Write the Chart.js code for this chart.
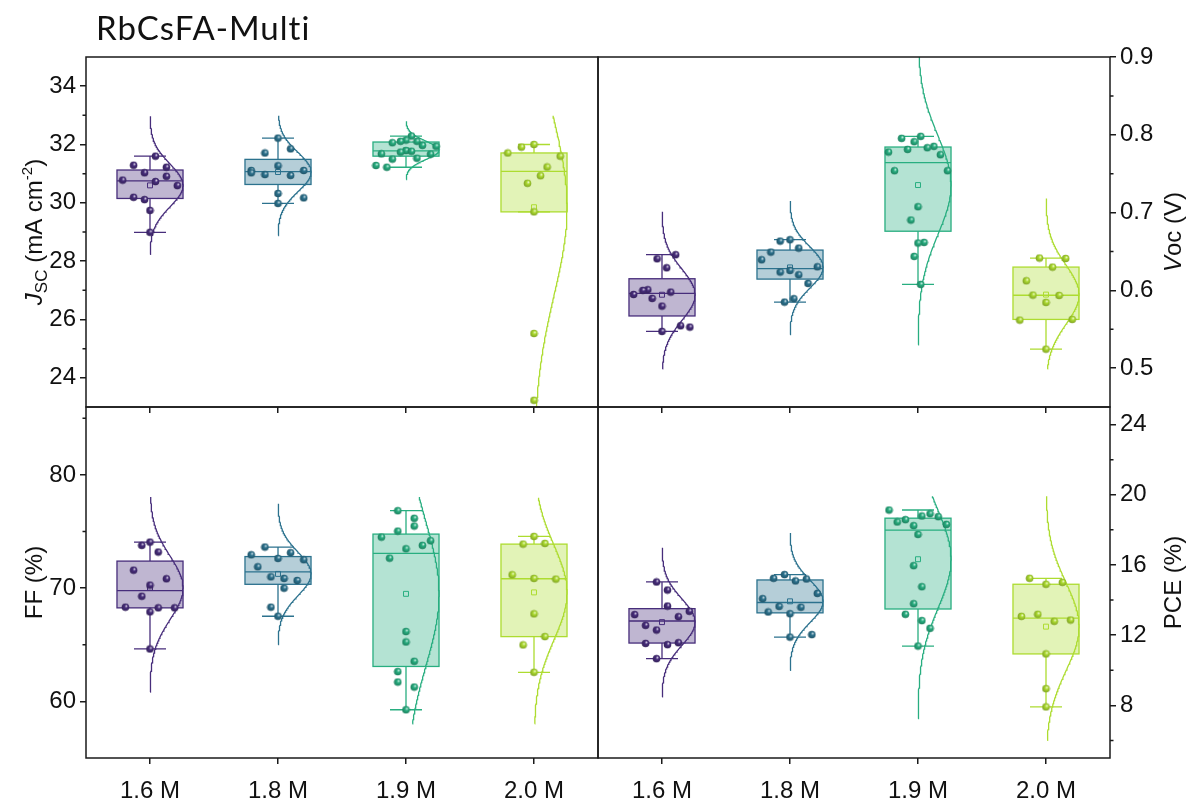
<!DOCTYPE html>
<html>
<head>
<meta charset="utf-8">
<title>RbCsFA-Multi</title>
<script src="https://cdn.jsdelivr.net/npm/chart.js@4.4.1/dist/chart.umd.min.js"></script>
<style>
  html, body { margin: 0; padding: 0; background: #fff; }
  #figure { position: relative; width: 1192px; height: 803px; overflow: hidden; }
  #figure canvas { position: absolute; left: 0; top: 0; }
</style>
</head>
<body>
<div id="figure">
  <canvas id="jscChart" width="1192" height="803"></canvas>
  <canvas id="vocChart" width="1192" height="803"></canvas>
  <canvas id="ffChart" width="1192" height="803"></canvas>
  <canvas id="pceChart" width="1192" height="803"></canvas>
</div>
<script>
const groups = ["1.6 M", "1.8 M", "1.9 M", "2.0 M"];
const colors = ["#472d7b", "#2c728e", "#28ae80", "#addc30"];
const fills = ["rgba(71,45,123,0.35)", "rgba(44,114,142,0.35)", "rgba(40,174,128,0.35)", "rgba(173,220,48,0.35)"];

// Jsc (mA cm-2) per device
const jsc16 = [31.60, 31.29, 31.22, 31.03, 30.91, 30.78, 30.73, 30.59, 30.19, 30.11, 29.74, 28.99];
const jsc18 = [32.22, 31.85, 31.71, 31.27, 31.11, 31.03, 30.97, 31.11, 30.94, 30.32, 30.17, 29.98];
const jsc19 = [32.29, 32.15, 32.11, 32.11, 32.06, 31.97, 31.94, 31.79, 31.77, 31.74, 31.68, 31.67, 31.53, 31.50, 31.28, 31.22];
const jsc20 = [32.00, 31.91, 31.71, 31.60, 31.23, 30.93, 30.67, 29.69, 25.52, 23.23];

// Voc (V)
const voc16 = [0.6458, 0.6406, 0.6290, 0.6008, 0.5999, 0.5977, 0.5947, 0.5896, 0.5797, 0.5544, 0.5527, 0.5472];
const voc18 = [0.6651, 0.6633, 0.6543, 0.6492, 0.6393, 0.6303, 0.6256, 0.6235, 0.6200, 0.6089, 0.5892, 0.5849];
const voc19 = [0.7980, 0.7954, 0.7911, 0.7851, 0.7834, 0.7812, 0.7778, 0.7744, 0.7538, 0.7538, 0.7075, 0.6904, 0.6616, 0.6608, 0.6436, 0.6076];
const voc20 = [0.6415, 0.6410, 0.6299, 0.6123, 0.5939, 0.5935, 0.5845, 0.5626, 0.5617, 0.5244];

// FF (%)
const ff16 = [74.07, 73.78, 73.19, 71.59, 70.83, 70.27, 69.29, 68.32, 68.26, 68.26, 67.91, 64.63];
const ff18 = [73.63, 73.13, 72.95, 72.63, 72.51, 71.89, 71.00, 70.86, 70.68, 70.00, 68.32, 67.52];
const ff19 = [76.84, 76.17, 75.49, 75.04, 74.51, 74.19, 73.78, 73.48, 72.65, 66.17, 65.25, 63.54, 62.63, 61.71, 61.27, 59.26];
const ff20 = [74.57, 73.95, 73.89, 71.18, 70.86, 70.80, 67.73, 65.72, 64.99, 62.57];

// PCE (%)
const pce16 = [15.03, 14.57, 13.66, 13.36, 13.17, 13.05, 12.56, 12.29, 11.57, 11.53, 11.46, 10.66];
const pce18 = [15.45, 15.24, 15.20, 15.09, 14.38, 14.08, 13.64, 13.59, 13.32, 13.22, 12.03, 11.89];
const pce19 = [19.13, 18.92, 18.79, 18.75, 18.58, 18.45, 18.31, 18.24, 17.74, 15.96, 14.76, 13.79, 13.19, 12.83, 12.39, 11.38];
const pce20 = [15.24, 15.01, 14.90, 13.19, 13.07, 12.86, 12.79, 10.93, 8.95, 7.91];

// value span covered by each normal-distribution line
const jscCurveLo = [28.23, 28.88, 30.80, 20.0];
const jscCurveHi = [32.97, 32.99, 32.80, 32.99];
const vocCurveLo = [0.499, 0.543, 0.530, 0.499];
const vocCurveHi = [0.701, 0.715, 0.950, 0.718];
const ffCurveLo = [60.83, 65.01, 58.02, 58.02];
const ffCurveHi = [78.05, 77.46, 78.05, 77.99];
const pceCurveLo = [8.48, 9.99, 7.24, 6.01];
const pceCurveHi = [16.98, 17.82, 19.91, 19.91];

// axis ticks
const jscTicks = [24, 26, 28, 30, 32, 34];
const jscMinor = [25, 27, 29, 31, 33];
const vocTicks = [0.5, 0.6, 0.7, 0.8, 0.9];
const vocMinor = [0.55, 0.65, 0.75, 0.85];
const ffTicks = [60, 70, 80];
const ffMinor = [65, 75, 85];
const pceTicks = [8, 12, 16, 20, 24];
const pceMinor = [6, 10, 14, 18, 22];

// horizontal scatter of the dots, in steps of JIT_STEP
const jscJitter = [
  [1, -3, 3, -1, 3, -5, 1, 5, -3, -1, 0, 0],
  [0, 2.3, -2.4, 0, -4.9, -4.9, -2.4, 4.7, 2.3, 0, 4.7, 0],
  [1, 0, -1, 2, -2.5, 3, 5.5, 0, 1, -1, -4.5, 4.5, 2, -2.5, -5.5, -3.5],
  [0, -2.3, -4.8, 4.8, 2.4, 1.2, -1.2, 0, 0, 0]
];
const vocJitter = [
  [2.5, -0.9, 0.85, -2.6, -3.5, 1.6, -5.2, -1.8, 0, 3.4, 5.1, 0],
  [0, -1.8, 1.6, -3.5, -5.2, 5, 0, -1.8, 1.6, 3.3, 0.7, -1],
  [0.5, -3, -0.7, 2.9, 1.7, -1.9, -5.4, 4.1, -4.3, 5.4, 0, -1.3, 1.1, 0, -0.7, 0.5],
  [-1.2, 3.6, 1.2, -3.6, -2.4, 2.4, 0, 4.8, -4.8, 0]
];
const ffJitter = [
  [0, -1.5, 1.5, -3, 3, 0, -1.5, -4.5, 1.5, 4.5, 0, 0],
  [-2.4, 2.3, -4.9, 0, 4.7, -3.7, -1.3, 1.1, 3.5, 1.1, -1.3, 0],
  [-1.5, 1.5, 1.5, -1.5, -4.5, 4.5, 3, 0, -3, 0, 0, 1.5, -1.5, -1.5, 1.5, 0],
  [0, 2, -2, -4, 0, 4, 0, 2, -2, 0]
];
const pceJitter = [
  [-1, 1, 1, 5, -5, 3, -3, -1, 3, -3, 1, -1],
  [-1, -3, 3, 1, 5, -5, -2, 2, -4, 0, 4, 0],
  [-5.3, 2.2, 0.7, 3.7, -2.3, -3.8, 5.2, -0.8, 0, -0.8, 0.7, -0.8, -2.3, 0.7, 2.2, 0],
  [-3, 3, 0, -1.5, -4.5, 4.5, 1.5, 0, 0, 0]
];

const W = 1192, H = 803;
const JIT_STEP = 0.0427;
const BOX_W = 0.516, CAP_W = 0.25, CURVE_PEAK = 0.258;
const FONT = "'Liberation Sans', Arial, sans-serif";
const INK = "#1a1a1a";

function mean(a) { return a.reduce((s, v) => s + v, 0) / a.length; }
function stdev(a) {
  const m = mean(a);
  return Math.sqrt(a.reduce((s, v) => s + (v - m) * (v - m), 0) / (a.length - 1));
}
function quantile(sorted, p) {
  const np = sorted.length * p;
  const k = Math.round(np);
  if (Math.abs(np - k) < 1e-9) return (sorted[k - 1] + sorted[k]) / 2;
  return sorted[Math.ceil(np) - 1];
}
function boxStats(vals) {
  const s = vals.slice().sort((a, b) => a - b);
  const q1 = quantile(s, 0.25), q3 = quantile(s, 0.75), med = quantile(s, 0.5);
  const iqr = q3 - q1;
  const inside = s.filter(v => v >= q1 - 1.5 * iqr && v <= q3 + 1.5 * iqr);
  return { q1, q3, med, lo: inside[0], hi: inside[inside.length - 1] };
}

function mix(hex, f, target) {
  const n = parseInt(hex.slice(1), 16);
  const c = [n >> 16, (n >> 8) & 255, n & 255].map(v => Math.round(v + (target - v) * f));
  return `rgb(${c[0]},${c[1]},${c[2]})`;
}
// shaded sphere used as point marker
function makeBall(hex) {
  const c = document.createElement("canvas");
  c.width = c.height = 9;
  const g = c.getContext("2d");
  const grad = g.createRadialGradient(5.6, 3.2, 0.2, 4.5, 4.5, 4.2);
  grad.addColorStop(0, mix(hex, 0.8, 255));
  grad.addColorStop(0.35, hex);
  grad.addColorStop(1, mix(hex, 0.3, 0));
  g.fillStyle = grad;
  g.beginPath();
  g.arc(4.5, 4.5, 3.8, 0, Math.PI * 2);
  g.fill();
  return c;
}
const balls = colors.map(makeBall);

function drawRich(ctx, segs, cx, cy) {
  const fontOf = s => `${s.italic ? "italic " : ""}${s.size || 24}px ${FONT}`;
  let total = 0;
  const widths = segs.map(s => {
    ctx.font = fontOf(s);
    const w = ctx.measureText(s.t).width;
    total += w;
    return w;
  });
  ctx.save();
  ctx.translate(cx, cy);
  ctx.rotate(-Math.PI / 2);
  ctx.textBaseline = "alphabetic";
  let pos = -total / 2;
  segs.forEach((s, k) => {
    ctx.font = fontOf(s);
    ctx.fillText(s.t, pos, 8.5 + (s.dy || 0));
    pos += widths[k];
  });
  ctx.restore();
}

// boxes + whiskers under the dots, frame / minor ticks / axis title on top
function panelDecor(p) {
  return {
    id: "decor",
    beforeDatasetsDraw(chart) {
      const { ctx, chartArea: a, scales: { x, y } } = chart;
      ctx.save();
      ctx.beginPath();
      ctx.rect(a.left, a.top, a.right - a.left, a.bottom - a.top);
      ctx.clip();
      p.values.forEach((vals, i) => {
        const st = boxStats(vals);
        const xl = x.getPixelForValue(i - BOX_W / 2), xr = x.getPixelForValue(i + BOX_W / 2);
        const xc = x.getPixelForValue(i);
        const cl = x.getPixelForValue(i - CAP_W / 2), cr = x.getPixelForValue(i + CAP_W / 2);
        const y1 = y.getPixelForValue(st.q1), y3 = y.getPixelForValue(st.q3);
        const ym = y.getPixelForValue(st.med);
        const ylo = y.getPixelForValue(st.lo), yhi = y.getPixelForValue(st.hi);
        ctx.fillStyle = fills[i];
        ctx.fillRect(xl, y3, xr - xl, y1 - y3);
        ctx.strokeStyle = colors[i];
        ctx.lineWidth = 1.3;
        ctx.strokeRect(xl, y3, xr - xl, y1 - y3);
        ctx.beginPath();
        ctx.moveTo(xl, ym); ctx.lineTo(xr, ym);
        ctx.moveTo(xc, y3); ctx.lineTo(xc, yhi);
        ctx.moveTo(xc, y1); ctx.lineTo(xc, ylo);
        ctx.moveTo(cl, yhi); ctx.lineTo(cr, yhi);
        ctx.moveTo(cl, ylo); ctx.lineTo(cr, ylo);
        ctx.stroke();
      });
      ctx.restore();
    },
    afterDraw(chart) {
      const { ctx, chartArea: a, scales: { y } } = chart;
      ctx.save();
      ctx.strokeStyle = INK;
      ctx.lineWidth = 1.5;
      ctx.strokeRect(a.left, a.top, a.right - a.left, a.bottom - a.top);
      ctx.beginPath();
      p.minors.forEach(v => {
        const py = y.getPixelForValue(v);
        if (p.side === "left") { ctx.moveTo(a.left, py); ctx.lineTo(a.left - 3.5, py); }
        else { ctx.moveTo(a.right, py); ctx.lineTo(a.right + 3.5, py); }
      });
      ctx.stroke();
      ctx.fillStyle = "#111";
      drawRich(ctx, p.title, p.titleX, (a.top + a.bottom) / 2);
      if (p.heading) {
        ctx.font = "33px Lato, 'Open Sans', sans-serif";
        ctx.letterSpacing = "1px";
        ctx.textBaseline = "alphabetic";
        ctx.fillText(p.heading, 96, 40);
      }
      ctx.restore();
    }
  };
}

function makePanel(canvasId, p) {
  const yWidth = p.side === "left" ? p.area.l : W - p.area.r;
  const xHeight = p.showX ? 45 : 8;
  const padding = {
    left: p.side === "left" ? 0 : p.area.l,
    right: p.side === "left" ? W - p.area.r : 0,
    top: p.area.t,
    bottom: H - p.area.b - xHeight
  };

  const datasets = [];
  p.values.forEach((vals, i) => {
    datasets.push({
      data: vals.map((v, k) => ({ x: i + p.jitter[i][k] * JIT_STEP, y: v })),
      pointStyle: balls[i],
      pointRadius: 4,
      order: 0
    });
  });
  datasets.push({
    data: p.values.map((vals, i) => ({ x: i, y: mean(vals) })),
    pointStyle: "rect",
    pointRadius: 3.5,
    pointBorderWidth: 1,
    pointBorderColor: colors,
    pointBackgroundColor: "rgba(0,0,0,0)",
    order: 1
  });
  p.values.forEach((vals, i) => {
    const m = mean(vals), s = stdev(vals);
    const pts = [];
    for (let k = 0; k <= 160; k++) {
      const v = p.curveLo[i] + (p.curveHi[i] - p.curveLo[i]) * k / 160;
      pts.push({ x: i + CURVE_PEAK * Math.exp(-0.5 * ((v - m) / s) ** 2), y: v });
    }
    datasets.push({
      data: pts,
      showLine: true,
      pointRadius: 0,
      borderColor: colors[i],
      borderWidth: 1.3,
      order: 2
    });
  });

  const axisGrid = { drawOnChartArea: false, drawTicks: true, tickLength: 6, color: INK, lineWidth: 1.5 };
  const tickFont = { family: FONT, size: 24 };

  new Chart(document.getElementById(canvasId), {
    type: "scatter",
    data: { datasets },
    options: {
      responsive: false,
      animation: false,
      devicePixelRatio: 1,
      events: [],
      layout: { padding },
      plugins: { legend: { display: false }, tooltip: { enabled: false } },
      scales: {
        x: {
          type: "linear",
          position: "bottom",
          min: -0.5,
          max: 3.5,
          bounds: "data",
          afterBuildTicks: s => { s.ticks = groups.map((g, i) => ({ value: i })); },
          afterFit: s => { s.height = xHeight; },
          ticks: {
            display: p.showX,
            autoSkip: false,
            maxRotation: 0,
            padding: 13,
            color: "#111",
            font: tickFont,
            callback: v => groups[v]
          },
          grid: axisGrid,
          border: { display: false }
        },
        y: {
          type: "linear",
          position: p.side,
          min: p.yMin,
          max: p.yMax,
          bounds: "data",
          afterBuildTicks: s => { s.ticks = p.majors.map(v => ({ value: v })); },
          afterFit: s => { s.width = yWidth; },
          ticks: { padding: 4, color: "#111", font: tickFont, callback: p.fmt },
          grid: axisGrid,
          border: { display: false }
        }
      }
    },
    plugins: [panelDecor(p)]
  });
}

makePanel("jscChart", {
  values: [jsc16, jsc18, jsc19, jsc20], jitter: jscJitter,
  curveLo: jscCurveLo, curveHi: jscCurveHi,
  area: { l: 86, t: 57, r: 598, b: 407 }, side: "left", showX: false,
  yMin: 23, yMax: 35, majors: jscTicks, minors: jscMinor, fmt: v => String(v),
  title: [{ t: "J", italic: true }, { t: "SC", size: 17, dy: 5 }, { t: " (mA cm" }, { t: "-2", size: 15, dy: -10 }, { t: ")" }],
  titleX: 33, heading: "RbCsFA-Multi"
});
makePanel("vocChart", {
  values: [voc16, voc18, voc19, voc20], jitter: vocJitter,
  curveLo: vocCurveLo, curveHi: vocCurveHi,
  area: { l: 598, t: 57, r: 1110, b: 407 }, side: "right", showX: false,
  yMin: 0.45, yMax: 0.9, majors: vocTicks, minors: vocMinor, fmt: v => v.toFixed(1),
  title: [{ t: "V", italic: true }, { t: "oc (V)" }],
  titleX: 1172
});
makePanel("ffChart", {
  values: [ff16, ff18, ff19, ff20], jitter: ffJitter,
  curveLo: ffCurveLo, curveHi: ffCurveHi,
  area: { l: 86, t: 407, r: 598, b: 758 }, side: "left", showX: true,
  yMin: 55, yMax: 86, majors: ffTicks, minors: ffMinor, fmt: v => String(v),
  title: [{ t: "FF (%)" }],
  titleX: 33
});
makePanel("pceChart", {
  values: [pce16, pce18, pce19, pce20], jitter: pceJitter,
  curveLo: pceCurveLo, curveHi: pceCurveHi,
  area: { l: 598, t: 407, r: 1110, b: 758 }, side: "right", showX: true,
  yMin: 5, yMax: 25, majors: pceTicks, minors: pceMinor, fmt: v => String(v),
  title: [{ t: "PCE (%)" }],
  titleX: 1172
});
</script>
</body>
</html>
